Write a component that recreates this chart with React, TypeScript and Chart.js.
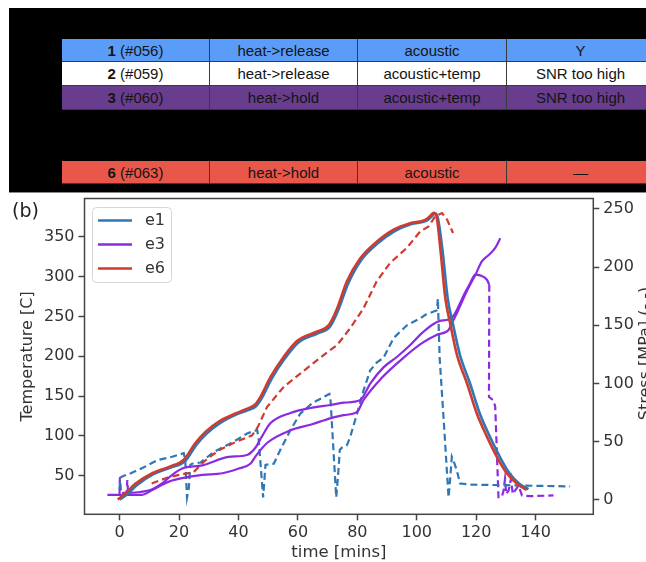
import React, { useEffect, useRef } from "react";
import { Chart, registerables } from "chart.js";

Chart.register(...registerables);

// ---------- table content ----------
const rowIds = ["1", "2", "3", "6"];
const rowCodes = ["(#056)", "(#059)", "(#060)", "(#063)"];
const rowProcess = ["heat->release", "heat->release", "heat->hold", "heat->hold"];
const rowSensors = ["acoustic", "acoustic+temp", "acoustic+temp", "acoustic"];
const rowNotes = ["Y", "SNR too high", "SNR too high", "\u2014"];
const rowColors = ["#5a9cf7", "#ffffff", "#693d8e", "#e9574a"];
const rowTops = [39, 62, 86, 161];
const rowHeights = [23, 24, 24, 23];
const colLefts = [62, 210, 358, 507];
const colWidths = [148, 148, 149, 148];

// ---------- chart axes ----------
const xTicks = [0, 20, 40, 60, 80, 100, 120, 140];
const tempTicks = [50, 100, 150, 200, 250, 300, 350];
const stressTicks = [0, 50, 100, 150, 200, 250];

// ---------- e6 temperature (solid red) ----------
const e6TempT = [-0.6, 2.0, 5.4, 11.0, 16.6, 21.6, 25.5, 28.9, 33.4, 39.0, 44.6, 45.5, 47.4, 50.8, 55.2, 59.7, 66.5, 70.4, 73.2, 76.5, 81.0, 86.6, 92.2, 97.8, 102.8, 104.5, 105.7, 106.6, 107.9, 109.6, 111.3, 113.5, 116.9, 120.2, 123.6, 126.9, 130.3, 133.7, 137.0];
const e6TempV = [20, 28, 40, 53, 61, 70, 91, 105, 118, 128, 137, 139, 149, 174, 199, 219, 231, 239, 260, 294, 323, 344, 359, 367, 371, 376, 380, 376, 336, 273, 240, 202, 166, 128, 99, 74, 53, 40, 32];

// ---------- e1 temperature (solid blue) ----------
const e1TempT = [0.0, 2.4, 5.8, 11.4, 17.0, 22.0, 25.9, 29.3, 33.8, 39.4, 45.0, 45.9, 47.8, 51.2, 55.6, 60.1, 66.9, 70.8, 73.6, 76.9, 81.4, 87.0, 92.6, 98.2, 103.2, 104.9, 106.1, 107.0, 108.6, 110.4, 112.2, 114.5, 117.9, 121.2, 124.6, 127.9, 131.2, 134.5, 137.6];
const e1TempV = [20, 26, 38, 52, 60, 68, 89, 103, 116, 127, 135, 137, 147, 172, 197, 217, 229, 237, 258, 291, 321, 342, 357, 366, 370, 375, 379, 375, 335, 273, 240, 202, 166, 128, 99, 74, 53, 40, 33];

// ---------- e3 temperatures (solid purple) ----------
const e3TempAT = [-4.1, 7.6, 11.0, 16.6, 21.1, 27.9, 34.6, 40.1, 44.0, 45.7, 49.6, 57.5, 64.2, 70.9, 75.4, 79.9, 82.1, 88.0, 95.5, 102.0, 106.8, 110.7, 112.3, 114.0, 116.0, 118.0, 119.7, 121.9, 124.2, 126.4, 128.1];
const e3TempAV = [26, 26, 32, 42.5, 47, 51, 53, 59, 65, 74, 91, 107, 114, 122, 126, 130, 145, 172, 198, 217, 227, 233, 245, 258, 275, 290, 302, 319, 327, 336, 348];
const e3TempBT = [0.9, 7.0, 11.0, 14.4, 17.7, 21.1, 27.9, 36.7, 42.9, 45.7, 47.8, 50.8, 57.5, 64.2, 70.9, 75.4, 81.0, 84.4, 88.8, 93.3, 97.8, 102.0, 107.5, 110.7, 112.3, 114.0, 116.0, 118.0, 119.7, 121.3, 123.6, 124.4];
const e3TempBV = [28, 29.5, 33, 40.5, 51, 59, 63, 73.5, 76, 85, 98.6, 116, 128.7, 135, 138.7, 141.6, 145, 166, 186, 199, 214, 230, 244, 246, 250.5, 262, 278, 292, 302.3, 301.5, 296, 289.7];

// ---------- stresses (dashed) ----------
const e1StressT = [0.0, 0.2, 0.9, 4.0, 8.2, 12.7, 17.7, 21.6, 22.1, 22.7, 23.3, 23.8, 24.4, 27.2, 31.7, 38.4, 42.9, 46.3, 46.8, 48.3, 49.1, 51.9, 54.1, 57.5, 60.8, 64.8, 70.6, 71.0, 72.9, 73.5, 74.1, 74.9, 76.5, 77.6, 79.9, 82.1, 84.3, 86.5, 88.8, 92.2, 96.7, 101.2, 102.9, 106.8, 107.1, 107.7, 109.0, 110.7, 111.3, 111.8, 112.3, 113.5, 114.6, 118.0, 130.0, 140.0, 151.6];
const e1StressV = [9, 19, 20, 23, 28, 34, 37, 40, 34, 2, 10, 30, 31, 32, 41, 50, 57, 60, 52, 2, 30, 31, 43, 60, 74, 83, 91, 85, 2, 20, 43, 45, 47, 54, 74, 94, 111, 118, 122, 139, 150, 156, 159, 163, 173, 122, 71, 2, 20, 37, 34, 25, 14, 13, 12.5, 12, 11.5];

const e6StressT = [10.8, 16.6, 22.2, 24.8, 28.9, 33.4, 39.0, 44.6, 46.5, 49.6, 55.2, 60.8, 66.5, 70.0, 73.2, 77.6, 82.1, 86.5, 91.0, 96.6, 101.2, 104.0, 106.2, 108.5, 110.2, 112.2];
const e6StressV = [14, 19.5, 22.5, 23.5, 34, 42.5, 49.6, 55.4, 62.5, 79.7, 97, 108.5, 120, 127, 133, 147.5, 164.7, 187.7, 203.5, 216.4, 230.8, 235, 243.7, 246.5, 240.8, 229.3];

const e3StressT = [0.0, 0.1, 0.5, 2.4, 2.6, 2.9, 60.0, 124.4, 124.3, 125.8, 126.4, 127.5, 128.6, 129.2, 129.7, 130.1, 130.9, 131.7, 132.3, 133.1, 134.2, 134.8, 135.4, 138.2, 146.0];
const e3StressV: (number | null)[] = [5, 19, 6, 6, 17, 5, null, 184.8, 88.3, 85.5, 80, 2.2, 2.2, 8, 18, 5, 8, 18, 5, 8, 12, 8, 3.7, 3.1, 3.7];

const legendNames = ["e1", "e3", "e6"];

const BLUE = "#2f77b5";
const RED = "#d03b2f";
const PURPLE = "#8a2be2";
const AX = "#333333";

const pts = (t: number[], v: (number | null)[]) => t.map((x, i) => ({ x, y: v[i] }));

const decor = {
  id: "decor",
  afterDraw(chart: any) {
    const { ctx, chartArea: a } = chart;
    ctx.save();
    // spines
    ctx.strokeStyle = "#444";
    ctx.lineWidth = 1.5;
    ctx.strokeRect(a.left, a.top, a.right - a.left, a.bottom - a.top);
    // legend
    const lx = 92.5, ly = 207.5, lw = 79, lh = 75, r = 4;
    ctx.beginPath();
    ctx.moveTo(lx + r, ly);
    ctx.lineTo(lx + lw - r, ly);
    ctx.quadraticCurveTo(lx + lw, ly, lx + lw, ly + r);
    ctx.lineTo(lx + lw, ly + lh - r);
    ctx.quadraticCurveTo(lx + lw, ly + lh, lx + lw - r, ly + lh);
    ctx.lineTo(lx + r, ly + lh);
    ctx.quadraticCurveTo(lx, ly + lh, lx, ly + lh - r);
    ctx.lineTo(lx, ly + r);
    ctx.quadraticCurveTo(lx, ly, lx + r, ly);
    ctx.closePath();
    ctx.fillStyle = "rgba(255,255,255,0.85)";
    ctx.fill();
    ctx.strokeStyle = "#d6d6d6";
    ctx.lineWidth = 1;
    ctx.stroke();
    const legendColors = [BLUE, PURPLE, RED];
    legendNames.forEach((n, i) => {
      const y = 220.5 + i * 24;
      ctx.strokeStyle = legendColors[i];
      ctx.lineWidth = 2.5;
      ctx.beginPath();
      ctx.moveTo(98, y);
      ctx.lineTo(132, y);
      ctx.stroke();
      ctx.fillStyle = AX;
      ctx.font = "16px 'DejaVu Sans'";
      ctx.textBaseline = "middle";
      ctx.textAlign = "left";
      ctx.fillText(n, 145, y + 0.5);
    });
    // titles
    const cy = (a.top + a.bottom) / 2;
    ctx.fillStyle = AX;
    ctx.font = "16px 'DejaVu Sans'";
    ctx.textAlign = "center";
    ctx.textBaseline = "alphabetic";
    ctx.save();
    ctx.translate(32, cy);
    ctx.rotate(-Math.PI / 2);
    ctx.fillText("Temperature [C]", 0, 0);
    ctx.restore();
    ctx.save();
    ctx.translate(650, cy - 3);
    ctx.rotate(-Math.PI / 2);
    ctx.fillText("Stress [MPa] (- -)", 0, 0);
    ctx.restore();
    ctx.font = "16.5px 'DejaVu Sans'";
    ctx.fillText("time [mins]", (a.left + a.right) / 2, 557);
    ctx.font = "19px 'DejaVu Sans'";
    ctx.textAlign = "left";
    ctx.fillStyle = "#222";
    ctx.fillText("(b)", 12, 217);
    ctx.restore();
  },
};

const tickFont = { family: "'DejaVu Sans'", size: 16 };

export default function App() {
  const ref = useRef<HTMLCanvasElement | null>(null);
  useEffect(() => {
    if (!ref.current) return;
    const dashed = [7, 4];
    const chart = new Chart(ref.current, {
      type: "line",
      data: {
        datasets: [
          { label: "e6", data: pts(e6TempT, e6TempV), yAxisID: "y", borderColor: RED, borderWidth: 2.6, cubicInterpolationMode: "monotone", order: 1 },
          { label: "e1", data: pts(e1TempT, e1TempV), yAxisID: "y", borderColor: BLUE, borderWidth: 2.6, cubicInterpolationMode: "monotone", order: 2 },
          { label: "e3a", data: pts(e3TempAT, e3TempAV), yAxisID: "y", borderColor: PURPLE, borderWidth: 2.2, cubicInterpolationMode: "monotone", order: 3 },
          { label: "e3b", data: pts(e3TempBT, e3TempBV), yAxisID: "y", borderColor: PURPLE, borderWidth: 2.2, cubicInterpolationMode: "monotone", order: 4 },
          { label: "e6 stress", data: pts(e6StressT, e6StressV), yAxisID: "y2", borderColor: RED, borderWidth: 2.2, borderDash: dashed, order: 5 },
          { label: "e1 stress", data: pts(e1StressT, e1StressV), yAxisID: "y2", borderColor: BLUE, borderWidth: 2.2, borderDash: dashed, order: 6 },
          { label: "e3 stress", data: pts(e3StressT, e3StressV), yAxisID: "y2", borderColor: PURPLE, borderWidth: 2.2, borderDash: dashed, order: 7 },
        ] as any,
      },
      options: {
        animation: false,
        responsive: false,
        maintainAspectRatio: false,
        devicePixelRatio: 1,
        layout: { padding: { top: 198.5, left: 0, right: 0, bottom: 0 } },
        plugins: { legend: { display: false }, tooltip: { enabled: false } },
        elements: { point: { radius: 0 }, line: { tension: 0, fill: false } },
        scales: {
          x: {
            type: "linear",
            min: -11.8,
            max: 159.4,
            afterBuildTicks: (s: any) => { s.ticks = xTicks.map((v) => ({ value: v })); },
            afterFit: (s: any) => { s.height = 47.7; },
            grid: { drawOnChartArea: false, drawTicks: true, tickLength: 6, tickColor: "#444", tickWidth: 1.5 },
            border: { display: false },
            ticks: { font: tickFont, color: AX, padding: 3, maxRotation: 0, autoSkip: false },
          },
          y: {
            type: "linear",
            position: "left",
            min: 1.5,
            max: 398,
            afterBuildTicks: (s: any) => { s.ticks = tempTicks.map((v) => ({ value: v })); },
            afterFit: (s: any) => { s.width = 84.5; },
            grid: { drawOnChartArea: false, drawTicks: true, tickLength: 6, tickColor: "#444", tickWidth: 1.5 },
            border: { display: false },
            ticks: { font: tickFont, color: AX, padding: 4, autoSkip: false },
          },
          y2: {
            type: "linear",
            position: "right",
            min: -12.5,
            max: 259,
            afterBuildTicks: (s: any) => { s.ticks = stressTicks.map((v) => ({ value: v })); },
            afterFit: (s: any) => { s.width = 52.7; },
            grid: { drawOnChartArea: false, drawTicks: true, tickLength: 6, tickColor: "#444", tickWidth: 1.5 },
            border: { display: false },
            ticks: { font: tickFont, color: AX, padding: 4, autoSkip: false },
          },
        },
      } as any,
      plugins: [decor],
    });
    return () => chart.destroy();
  }, []);

  return (
    <div style={{ position: "fixed", left: 0, top: 0, width: 646, height: 562, background: "#fff", overflow: "hidden" }}>
      <canvas ref={ref} width={646} height={562} style={{ position: "absolute", left: 0, top: 0, width: 646, height: 562 }} />
      <div style={{ position: "absolute", left: 9, top: 8, width: 637, height: 184, background: "#000", borderBottom: "1px solid #888" }} />
      {rowIds.map((id, r) => (
        <div key={id} style={{ position: "absolute", left: colLefts[0], top: rowTops[r], width: 646 - colLefts[0], height: rowHeights[r], background: rowColors[r], borderBottom: "1px solid #3a3a3a", boxSizing: "border-box" }}>
          {[0, 1, 2, 3].map((c) => (
            <div key={c} style={{ position: "absolute", left: colLefts[c] - colLefts[0], top: 0, width: colWidths[c], height: rowHeights[r] - 1, borderRight: "1px solid #3a3a3a", boxSizing: "border-box", display: "flex", alignItems: "center", justifyContent: "center", fontFamily: "'Liberation Sans', Arial, sans-serif", fontSize: 15, color: "#141414", whiteSpace: "nowrap" }}>
              {c === 0 ? (<span><b>{id}</b> {rowCodes[r]}</span>) : c === 1 ? rowProcess[r] : c === 2 ? rowSensors[r] : rowNotes[r]}
            </div>
          ))}
        </div>
      ))}
    </div>
  );
}
